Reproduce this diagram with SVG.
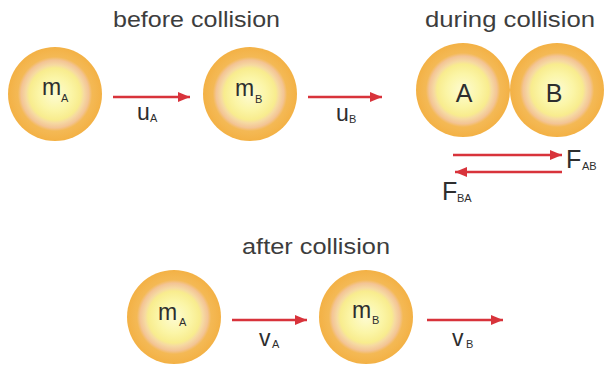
<svg xmlns="http://www.w3.org/2000/svg" width="605" height="371" viewBox="0 0 605 371">
<style>
.ball{fill:url(#ballGrad)}
.title{font-family:"Liberation Sans",Arial,sans-serif;font-size:22px;fill:#3d3d3d}
.lbl{font-family:"Liberation Sans",Arial,sans-serif;fill:#2e2e2e}
.big{font-size:25px}
.mid{font-size:23px}
.sub{font-size:11px}
.arrow{stroke:#d8333b;stroke-width:2.6;fill:none;marker-end:url(#head)}
</style>
<defs>
<radialGradient id="ballGrad" cx="0.5" cy="0.5" r="0.5">
<stop offset="0" stop-color="#fdfbd2"/>
<stop offset="0.35" stop-color="#fbf5a6"/>
<stop offset="0.55" stop-color="#f8ec8e"/>
<stop offset="0.62" stop-color="#f6d9a2"/>
<stop offset="0.72" stop-color="#f3c495"/>
<stop offset="0.79" stop-color="#f4b955"/>
<stop offset="1" stop-color="#f3b145"/>
</radialGradient>
<marker id="head" markerUnits="userSpaceOnUse" markerWidth="13" markerHeight="11" refX="12" refY="5.5" orient="auto">
<path d="M0,0.5 L12,5.5 L0,10.5 z" fill="#d8333b"/>
</marker>
</defs>
<rect width="605" height="371" fill="#ffffff"/>

<text class="title" x="113" y="27" textLength="167" lengthAdjust="spacingAndGlyphs">before collision</text>
<text class="title" x="425" y="27" textLength="170" lengthAdjust="spacingAndGlyphs">during collision</text>
<text class="title" x="242" y="254" textLength="148" lengthAdjust="spacingAndGlyphs">after collision</text>

<g id="ballA-before">
<circle class="ball" cx="55" cy="94" r="47"/>
<text class="lbl mid" x="42" y="95">m</text><text class="lbl sub" x="61" y="102">A</text>
</g>
<g id="ballB-before">
<circle class="ball" cx="250" cy="94" r="47"/>
<text class="lbl mid" x="235" y="96">m</text><text class="lbl sub" x="255" y="103">B</text>
</g>
<g id="ballA-during">
<circle class="ball" cx="463" cy="90" r="47"/>
<text class="lbl big" x="464" y="102" text-anchor="middle">A</text>
</g>
<g id="ballB-during">
<circle class="ball" cx="557" cy="90" r="47"/>
<text class="lbl big" x="554" y="102" text-anchor="middle">B</text>
</g>
<g id="ballA-after">
<circle class="ball" cx="174" cy="317" r="47"/>
<text class="lbl mid" x="158" y="320">m</text><text class="lbl sub" x="179" y="326">A</text>
</g>
<g id="ballB-after">
<circle class="ball" cx="366" cy="317" r="47"/>
<text class="lbl mid" x="352" y="318">m</text><text class="lbl sub" x="372" y="324">B</text>
</g>

<g id="connectors">
<line class="arrow" x1="113" y1="97" x2="190" y2="97"/>
<line class="arrow" x1="308" y1="97" x2="382" y2="97"/>
<line class="arrow" x1="453" y1="155" x2="562" y2="155"/>
<line class="arrow" x1="562" y1="172" x2="455" y2="172"/>
<line class="arrow" x1="232" y1="320" x2="307" y2="320"/>
<line class="arrow" x1="427" y1="320" x2="503" y2="320"/>
</g>

<g id="labels">
<text class="lbl mid" x="137" y="120">u</text><text class="lbl sub" x="150" y="122">A</text>
<text class="lbl mid" x="336" y="121">u</text><text class="lbl sub" x="349" y="123">B</text>
<text class="lbl big" x="566" y="168">F</text><text class="lbl sub" x="582" y="170">AB</text>
<text class="lbl big" x="442" y="200">F</text><text class="lbl sub" x="457" y="202">BA</text>
<text class="lbl mid" x="259" y="346">v</text><text class="lbl sub" x="272" y="348">A</text>
<text class="lbl mid" x="452" y="346">v</text><text class="lbl sub" x="466" y="348">B</text>
</g>
</svg>
